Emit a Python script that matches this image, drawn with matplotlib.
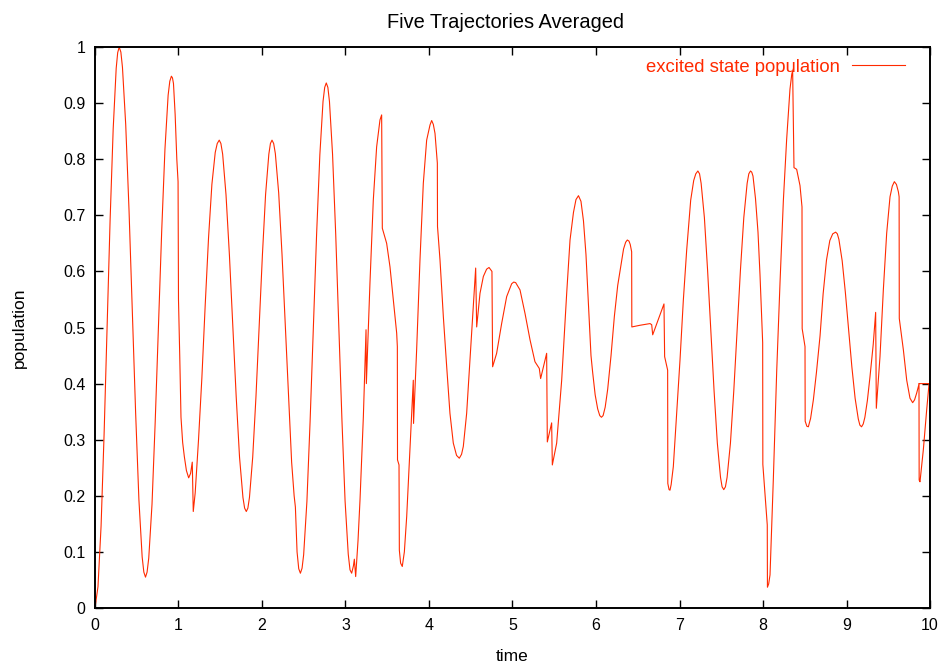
"""
Five Trajectories Averaged: excited state population over time (gnuplot-style line chart).
"""
import matplotlib
matplotlib.use("Agg")
import matplotlib.pyplot as plt
from matplotlib.ticker import FuncFormatter, MultipleLocator

# time / population
time = [
    0.000, 0.036, 0.073, 0.109, 0.145, 0.181, 0.218, 0.254, 0.272, 0.290,
    0.310, 0.329, 0.368, 0.408, 0.447, 0.487, 0.526, 0.565, 0.585, 0.605,
    0.624, 0.644, 0.683, 0.721, 0.760, 0.799, 0.838, 0.876, 0.896, 0.915,
    0.928, 0.940, 0.960, 0.980, 0.995, 1.000, 1.015, 1.030, 1.050, 1.070,
    1.095, 1.122, 1.145, 1.165, 1.177, 1.200, 1.240, 1.280, 1.320, 1.360,
    1.400, 1.440, 1.464, 1.488, 1.508, 1.529, 1.569, 1.610, 1.650, 1.691,
    1.731, 1.772, 1.792, 1.812, 1.831, 1.850, 1.889, 1.928, 1.966, 2.005,
    2.043, 2.082, 2.101, 2.120, 2.140, 2.160, 2.200, 2.240, 2.280, 2.320,
    2.355, 2.385, 2.400, 2.420, 2.440, 2.460, 2.480, 2.499, 2.538, 2.576,
    2.615, 2.654, 2.693, 2.731, 2.751, 2.770, 2.789, 2.808, 2.845, 2.883,
    2.920, 2.958, 2.995, 3.033, 3.054, 3.074, 3.095, 3.106, 3.122, 3.150,
    3.174, 3.214, 3.246, 3.250, 3.293, 3.333, 3.373, 3.413, 3.433, 3.441,
    3.493, 3.533, 3.573, 3.613, 3.621, 3.623, 3.641, 3.645, 3.660, 3.680,
    3.705, 3.733, 3.772, 3.812, 3.815, 3.852, 3.892, 3.932, 3.972, 4.012,
    4.032, 4.052, 4.072, 4.100, 4.102, 4.132, 4.172, 4.212, 4.251, 4.291,
    4.330, 4.363, 4.390, 4.411, 4.451, 4.491, 4.531, 4.559, 4.571, 4.611,
    4.651, 4.690, 4.719, 4.754, 4.762, 4.810, 4.870, 4.930, 4.990, 5.015,
    5.038, 5.090, 5.150, 5.210, 5.269, 5.321, 5.337, 5.409, 5.417, 5.469,
    5.477, 5.529, 5.589, 5.649, 5.689, 5.730, 5.760, 5.790, 5.820, 5.850,
    5.880, 5.910, 5.940, 5.960, 5.990, 6.020, 6.045, 6.065, 6.085, 6.110,
    6.140, 6.180, 6.220, 6.260, 6.287, 6.330, 6.355, 6.375, 6.395, 6.410,
    6.427, 6.429, 6.527, 6.647, 6.667, 6.679, 6.814, 6.822, 6.858, 6.860,
    6.875, 6.886, 6.900, 6.926, 6.966, 7.006, 7.046, 7.086, 7.134, 7.170,
    7.195, 7.220, 7.240, 7.259, 7.298, 7.336, 7.375, 7.414, 7.453, 7.491,
    7.510, 7.530, 7.550, 7.570, 7.610, 7.650, 7.690, 7.730, 7.770, 7.810,
    7.830, 7.850, 7.865, 7.880, 7.910, 7.940, 7.964, 7.996, 7.998, 8.051,
    8.053, 8.068, 8.084, 8.124, 8.164, 8.204, 8.244, 8.283, 8.323, 8.345,
    8.355, 8.371, 8.403, 8.443, 8.467, 8.469, 8.503, 8.505, 8.525, 8.543,
    8.570, 8.603, 8.640, 8.683, 8.720, 8.760, 8.800, 8.835, 8.870, 8.890,
    8.909, 8.948, 8.986, 9.025, 9.064, 9.103, 9.141, 9.160, 9.180, 9.200,
    9.220, 9.250, 9.281, 9.320, 9.349, 9.357, 9.401, 9.441, 9.481, 9.521,
    9.548, 9.573, 9.598, 9.621, 9.630, 9.632, 9.681, 9.721, 9.760, 9.792,
    9.815, 9.840, 9.868, 9.870, 9.880, 9.920, 9.960, 9.988, 10.000, 9.868,
]
population = [
    0.000, 0.038, 0.146, 0.309, 0.500, 0.691, 0.854, 0.962, 0.990, 1.000,
    0.991, 0.964, 0.862, 0.708, 0.528, 0.347, 0.193, 0.091, 0.064, 0.055,
    0.064, 0.089, 0.185, 0.331, 0.502, 0.672, 0.818, 0.914, 0.939, 0.948,
    0.945, 0.935, 0.880, 0.800, 0.760, 0.550, 0.450, 0.340, 0.295, 0.270,
    0.245, 0.232, 0.240, 0.260, 0.172, 0.205, 0.300, 0.410, 0.540, 0.660,
    0.755, 0.812, 0.828, 0.834, 0.828, 0.809, 0.737, 0.629, 0.503, 0.377,
    0.269, 0.197, 0.178, 0.172, 0.178, 0.197, 0.269, 0.377, 0.503, 0.629,
    0.737, 0.809, 0.828, 0.834, 0.828, 0.810, 0.740, 0.630, 0.500, 0.370,
    0.260, 0.200, 0.180, 0.100, 0.070, 0.062, 0.071, 0.095, 0.190, 0.332,
    0.499, 0.666, 0.808, 0.903, 0.928, 0.936, 0.928, 0.903, 0.809, 0.666,
    0.500, 0.333, 0.191, 0.096, 0.068, 0.062, 0.075, 0.087, 0.056, 0.120,
    0.193, 0.341, 0.496, 0.400, 0.579, 0.727, 0.822, 0.870, 0.879, 0.677,
    0.650, 0.608, 0.549, 0.490, 0.466, 0.264, 0.255, 0.103, 0.080, 0.074,
    0.100, 0.163, 0.282, 0.406, 0.329, 0.460, 0.620, 0.757, 0.834, 0.861,
    0.869, 0.862, 0.846, 0.793, 0.680, 0.620, 0.519, 0.430, 0.347, 0.294,
    0.272, 0.267, 0.274, 0.288, 0.347, 0.442, 0.537, 0.606, 0.501, 0.561,
    0.591, 0.604, 0.607, 0.600, 0.430, 0.454, 0.507, 0.555, 0.578, 0.581,
    0.580, 0.567, 0.525, 0.478, 0.439, 0.427, 0.409, 0.454, 0.296, 0.330,
    0.255, 0.294, 0.406, 0.561, 0.656, 0.705, 0.728, 0.735, 0.725, 0.690,
    0.630, 0.540, 0.450, 0.420, 0.380, 0.355, 0.343, 0.340, 0.343, 0.358,
    0.390, 0.450, 0.520, 0.575, 0.600, 0.640, 0.652, 0.656, 0.654, 0.648,
    0.635, 0.501, 0.504, 0.507, 0.505, 0.487, 0.542, 0.448, 0.424, 0.222,
    0.211, 0.210, 0.220, 0.252, 0.347, 0.442, 0.549, 0.638, 0.727, 0.762,
    0.774, 0.779, 0.774, 0.757, 0.696, 0.603, 0.495, 0.387, 0.294, 0.233,
    0.216, 0.211, 0.216, 0.233, 0.294, 0.387, 0.495, 0.603, 0.696, 0.757,
    0.774, 0.779, 0.777, 0.770, 0.730, 0.670, 0.594, 0.473, 0.256, 0.148,
    0.037, 0.043, 0.059, 0.231, 0.422, 0.581, 0.727, 0.835, 0.925, 0.952,
    0.957, 0.785, 0.782, 0.753, 0.715, 0.498, 0.466, 0.333, 0.324, 0.323,
    0.338, 0.371, 0.420, 0.485, 0.560, 0.620, 0.655, 0.667, 0.670, 0.667,
    0.657, 0.619, 0.563, 0.497, 0.430, 0.374, 0.337, 0.326, 0.323, 0.328,
    0.340, 0.370, 0.412, 0.470, 0.527, 0.356, 0.448, 0.567, 0.668, 0.733,
    0.752, 0.760, 0.755, 0.742, 0.733, 0.516, 0.460, 0.406, 0.374, 0.366,
    0.371, 0.383, 0.399, 0.228, 0.225, 0.282, 0.353, 0.399, 0.400, 0.400,
]

LINE_COLOR = "#ff2a00"

plt.rcParams["font.family"] = ["Liberation Sans", "DejaVu Sans"]
plt.rcParams["font.size"] = 11.5

fig = plt.figure(figsize=(9.46, 6.69), dpi=100)
ax = fig.add_axes([0.1004, 0.0912, 0.8827, 0.8385])

ax.plot(time, population, color=LINE_COLOR, linewidth=0.8,
        label="excited state population")

ax.set_xlim(0, 10)
ax.set_ylim(0, 1)
ax.xaxis.set_major_locator(MultipleLocator(1))
ax.yaxis.set_major_locator(MultipleLocator(0.1))
ax.yaxis.set_major_formatter(FuncFormatter(lambda v, _: f"{v:g}"))
ax.xaxis.set_major_formatter(FuncFormatter(lambda v, _: f"{v:g}"))

ax.tick_params(direction="in", length=6, width=1.0, top=True, right=True, pad=7)
for sp in ax.spines.values():
    sp.set_linewidth(1.4)

# gnuplot puts the title a little left of the plot centre
ax.set_title("Five Trajectories Averaged", pad=14, fontsize=14.4, x=0.4916)
ax.set_xlabel("time", labelpad=12, fontsize=12.5)
ax.set_ylabel("population", labelpad=26, fontsize=12.5)

ax.legend(loc="center right", bbox_to_anchor=(0.970, 0.964), frameon=False,
          markerfirst=False, handlelength=2.85, handletextpad=0.65,
          borderpad=0, borderaxespad=0, labelcolor=LINE_COLOR, fontsize=13.3)

fig.savefig("out.png", dpi=100)
